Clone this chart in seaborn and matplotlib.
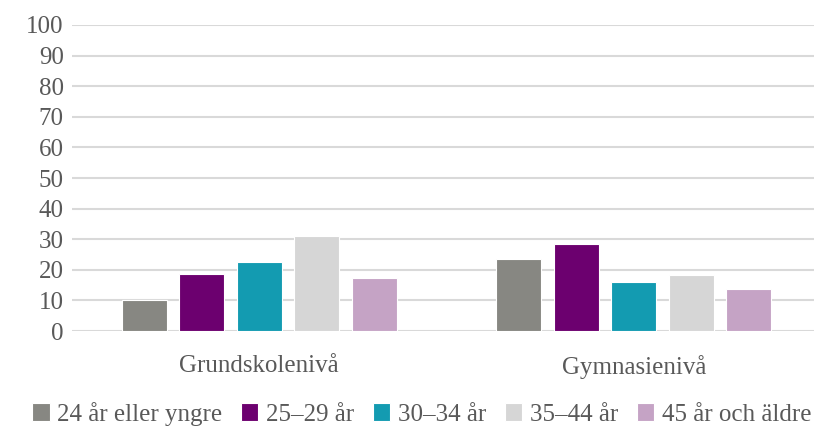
import pandas as pd
import matplotlib.pyplot as plt
import seaborn as sns

# Data
nivaer = ['Grundskolenivå', 'Gymnasienivå']
aldersgrupper = ['24 år eller yngre', '25–29 år', '30–34 år', '35–44 år', '45 år och äldre']
grund = [10, 18.8, 22.6, 31.1, 17.5]
gymn = [23.6, 28.5, 16.0, 18.2, 13.7]
farger = ['#878782', '#6C006F', '#139BB1', '#D6D6D6', '#C5A3C5']

data = pd.DataFrame({
    'Nivå': [nivaer[0]] * 5 + [nivaer[1]] * 5,
    'Ålder': aldersgrupper * 2,
    'Andel': grund + gymn,
})

sns.set_style('white')
plt.rcParams['font.family'] = ['Liberation Serif', 'DejaVu Serif']
textfarg = '#595959'

fig = plt.figure(figsize=(8.14, 4.3), dpi=100)
ax = fig.add_axes([0.0885, 0.230, 0.9115, 0.712])

sns.barplot(data=data, x='Nivå', y='Andel', hue='Ålder', order=nivaer,
            hue_order=aldersgrupper, palette=farger, saturation=1,
            width=0.768, gap=0.22, edgecolor='white', linewidth=0.8,
            ax=ax, legend=True)

ax.set_ylim(0, 100)
ax.set_xlim(-0.5, 1.481)
ax.set_yticks(range(0, 101, 10))
ax.yaxis.grid(True, color='#D9D9D9', linewidth=1.5)
ax.set_axisbelow(True)
for s in ax.spines.values():
    s.set_visible(False)
ax.set_xlabel('')
ax.set_ylabel('')
ax.tick_params(axis='both', length=0, labelsize=18, colors=textfarg)
ax.tick_params(axis='x', pad=17)
ax.tick_params(axis='y', pad=6)

handles, labels = ax.get_legend_handles_labels()
ax.get_legend().remove()
fig.legend(handles, labels, loc='center', bbox_to_anchor=(0.518, 0.038), ncol=5,
           frameon=False, fontsize=18, labelcolor=textfarg, handlelength=0.7,
           handleheight=0.7, handletextpad=0.3, columnspacing=0.75)

plt.savefig('out.png', dpi=100)
